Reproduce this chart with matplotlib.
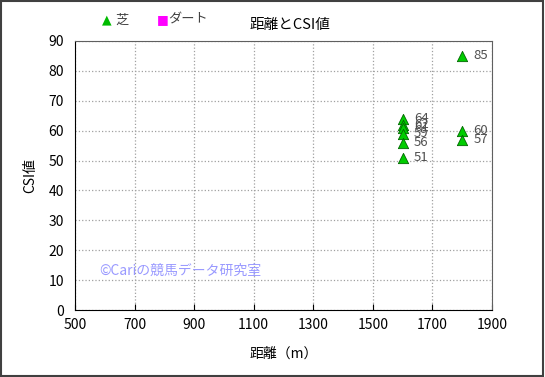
import numpy as np
import matplotlib.pyplot as plt
import matplotlib.patches as patches

plt.rcParams['font.family'] = ['Noto Sans CJK JP', 'DejaVu Sans']

# data: distance (m) and CSI value
turf_dist = [1600, 1600, 1600, 1600, 1600, 1600, 1800, 1800, 1800]
turf_csi = [64, 62, 61, 59, 56, 51, 85, 60, 57]
dirt_dist = []
dirt_csi = []

x_ticks = [500, 700, 900, 1100, 1300, 1500, 1700, 1900]
y_ticks = [0, 10, 20, 30, 40, 50, 60, 70, 80, 90]

fig = plt.figure(figsize=(5.45, 3.77), dpi=100)
ax = fig.add_axes([75/545, 1-310/377, 417/545, 269/377])

ax.scatter(turf_dist, turf_csi, marker='^', s=55, c='#00cc00', edgecolors='#006600',
           linewidths=0.6, zorder=3)
ax.scatter(dirt_dist, dirt_csi, marker='s', s=30, c='#ff00ff', zorder=3)
for x, y in zip(turf_dist, turf_csi):
    ax.text(x + 38, y, str(y), fontsize=9.5, color='#505050', va='center', ha='left')

ax.set_xlim(500, 1900)
ax.set_ylim(0, 90)
ax.set_xticks(x_ticks)
ax.set_yticks(y_ticks)
ax.tick_params(labelsize=10, length=4, direction='in', colors='black', pad=6)
ax.tick_params(axis='y', length=0, pad=8)
ax.grid(True, color='#a0a0a0', linestyle=':', linewidth=0.9)
for s in ax.spines.values():
    s.set_color('#606060')
ax.spines['bottom'].set_color('black')
ax.spines['left'].set_color('black')

ax.set_xlabel('距離（m）', fontsize=10, labelpad=10)
ax.set_ylabel('CSI値', fontsize=10, labelpad=8)

ax.text(580, 13, '©Cariの競馬データ研究室', fontsize=10, color='#9999ff', va='center')

fig.text(290/545, 1-25/377, '距離とCSI値', fontsize=10.5, ha='center', va='center')
fig.text(102/545, 1-20/377, '▲', fontsize=9, color='#00bb00', va='center', family=['DejaVu Sans'])
fig.text(115/545, 1-20/377, '芝', fontsize=9.5, color='#404040', va='center')
fig.text(157/545, 1-20/377, '■', fontsize=9, color='#ff00ff', va='center', family=['DejaVu Sans'])
fig.text(168/545, 1-20/377, 'ダート', fontsize=9.5, color='#404040', va='center')

fig.patches.append(patches.Rectangle((0.002, 0.003), 0.995, 0.994, transform=fig.transFigure,
                                     fill=False, edgecolor='#404040', linewidth=1.5))

fig.savefig('out.png', dpi=100)
